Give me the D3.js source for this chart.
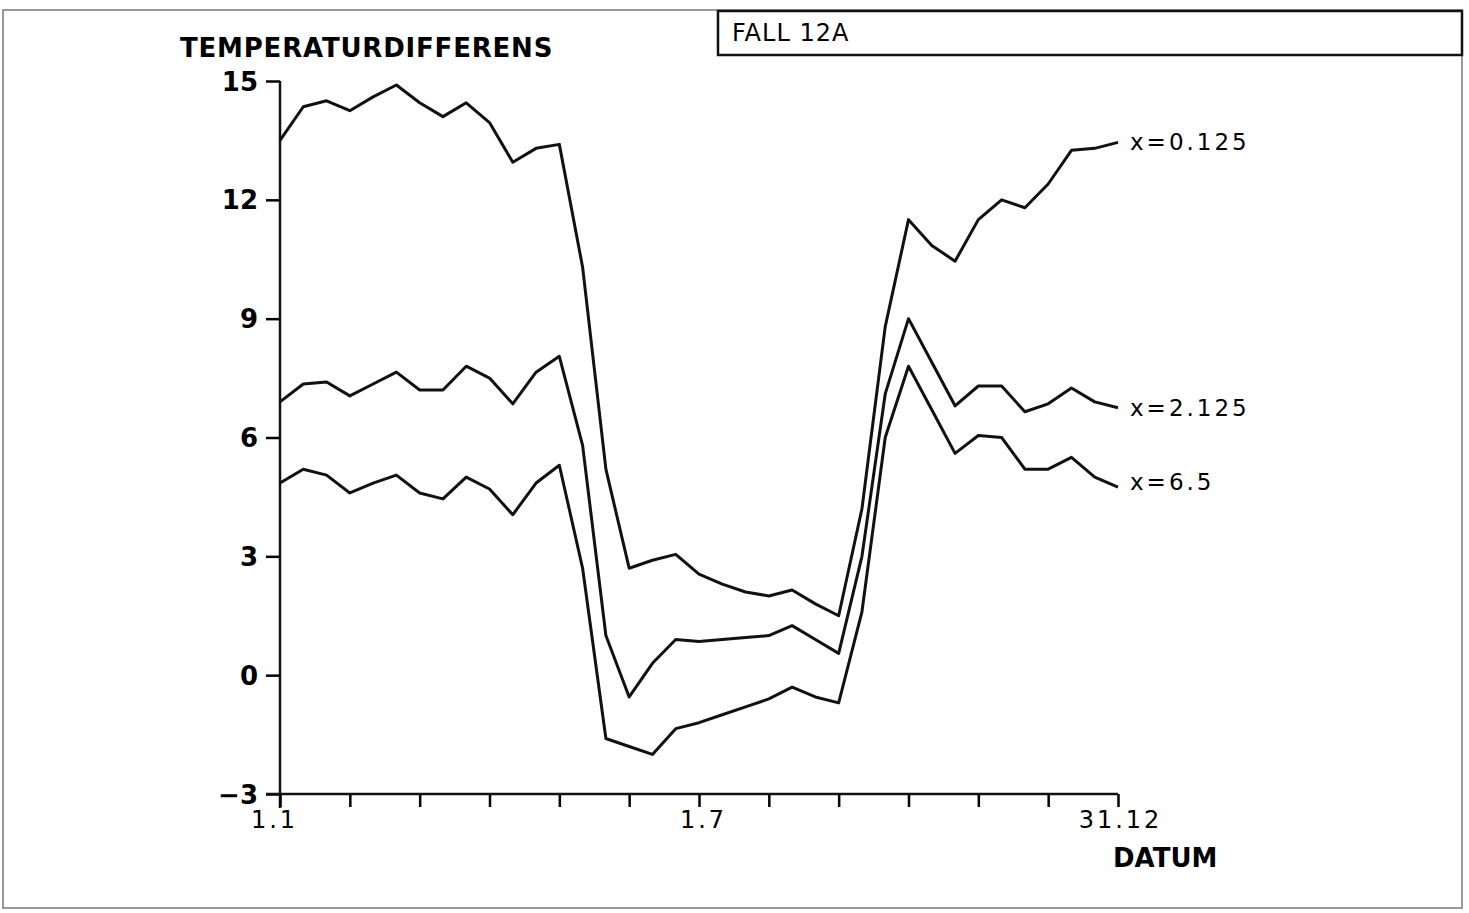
<!DOCTYPE html>
<html>
<head>
<meta charset="utf-8">
<script src="https://cdn.jsdelivr.net/npm/d3@7"></script>
<style>
  body { margin: 0; background: #fff; }
  svg { display: block; }
</style>
</head>
<body>
<div id="chart"></div>
<script>
// 10-day periods over the year, 0..36
const periods = d3.range(37);
const seriesNames = ['x=0.125', 'x=2.125', 'x=6.5'];
const valuesA = [13.5,14.35,14.5,14.25,14.6,14.9,14.45,14.1,14.45,13.95,12.95,13.3,13.4,10.3,5.2,2.7,2.9,3.05,2.55,2.3,2.1,2.0,2.15,1.8,1.5,4.2,8.8,11.5,10.85,10.45,11.5,12.0,11.8,12.4,13.25,13.3,13.45];
const valuesB = [6.9,7.35,7.4,7.05,7.35,7.65,7.2,7.2,7.8,7.5,6.85,7.65,8.05,5.8,1.0,-0.55,0.3,0.9,0.85,0.9,0.95,1.0,1.25,0.9,0.55,3.0,7.1,9.0,7.9,6.8,7.3,7.3,6.65,6.85,7.25,6.9,6.75];
const valuesC = [4.85,5.2,5.05,4.6,4.85,5.05,4.6,4.45,5.0,4.7,4.05,4.85,5.3,2.7,-1.6,-1.8,-2.0,-1.35,-1.2,-1.0,-0.8,-0.6,-0.3,-0.55,-0.7,1.6,6.0,7.8,6.7,5.6,6.05,6.0,5.2,5.2,5.5,5.0,4.75];
const yTicks = [-3, 0, 3, 6, 9, 12, 15];
const xTicks = d3.range(0, 37, 3);
const xTickLabels = { 0: '1.1', 18: '1.7', 36: '31.12' };

const width = 1469, height = 913;
const svg = d3.select('#chart').append('svg')
    .attr('width', width)
    .attr('height', height);

svg.append('rect').attr('width', width).attr('height', height).attr('fill', '#fff');

// outer frame
svg.append('rect')
    .attr('x', 3).attr('y', 10)
    .attr('width', 1459).attr('height', 898)
    .attr('fill', 'none').attr('stroke', '#777').attr('stroke-width', 1.5);

// title box
svg.append('rect')
    .attr('x', 718).attr('y', 11)
    .attr('width', 744).attr('height', 44)
    .attr('fill', 'none').attr('stroke', '#111').attr('stroke-width', 2.5);
svg.append('text')
    .attr('x', 732).attr('y', 41)
    .style('font-family', 'DejaVu Sans')
    .style('font-size', '24px')
    .style('letter-spacing', '1px')
    .text('FALL  12A');

const x = d3.scaleLinear().domain([0, 36]).range([280, 1118]);
const y = d3.scaleLinear().domain([-3, 15]).range([794, 81]);

// y axis
const yAxis = svg.append('g').attr('transform', `translate(${x(0)},0)`)
    .call(d3.axisLeft(y).tickValues(yTicks).tickSize(14).tickPadding(8));
yAxis.select('.domain').attr('d', `M0,${y(15)}V${y(-3) + 14}`);
yAxis.selectAll('line').attr('stroke-width', 2.5);
yAxis.selectAll('text')
    .style('font-family', 'DejaVu Sans')
    .style('font-weight', 'bold')
    .style('font-size', '26px')
    .attr('dy', '0.35em');

// x axis
const xAxis = svg.append('g').attr('transform', `translate(0,${y(-3)})`)
    .call(d3.axisBottom(x).tickValues(xTicks).tickSize(13).tickPadding(4)
        .tickFormat(d => xTickLabels[d] || ''));
xAxis.select('.domain').attr('d', `M${x(0) - 14},0H${x(36)}`);
xAxis.selectAll('line').attr('stroke-width', 2.5);
xAxis.selectAll('text')
    .style('font-family', 'DejaVu Sans')
    .style('font-size', '24px')
    .style('letter-spacing', '3px')
    .attr('dx', d => d === 0 ? '-6' : d === 36 ? '2' : '4');

svg.selectAll('.domain').attr('stroke', '#111').attr('stroke-width', 2.5);

// axis titles
svg.append('text')
    .attr('x', 180).attr('y', 57)
    .style('font-family', 'DejaVu Sans')
    .style('font-weight', 'bold')
    .style('font-size', '26px')
    .style('letter-spacing', '0.8px')
    .text('TEMPERATURDIFFERENS');
svg.append('text')
    .attr('x', 1113).attr('y', 867)
    .style('font-family', 'DejaVu Sans')
    .style('font-weight', 'bold')
    .style('font-size', '26px')
    .text('DATUM');

// series lines
const line = d3.line().x((d, i) => x(periods[i])).y(d => y(d));
const allSeries = [valuesA, valuesB, valuesC];
svg.selectAll('.series').data(allSeries).enter()
    .append('path')
    .attr('class', 'series')
    .attr('d', line)
    .attr('fill', 'none')
    .attr('stroke', '#111')
    .attr('stroke-width', 3)
    .attr('stroke-linejoin', 'round');

// end labels
const labelShift = [0, 0, -5];
svg.selectAll('.endlabel').data(allSeries).enter()
    .append('text')
    .attr('class', 'endlabel')
    .attr('x', x(36) + 12)
    .attr('y', (d, i) => y(d[d.length - 1]) + labelShift[i])
    .attr('dy', '0.35em')
    .style('font-family', 'DejaVu Sans')
    .style('font-size', '23px')
    .style('letter-spacing', '3px')
    .text((d, i) => seriesNames[i]);
</script>
</body>
</html>
